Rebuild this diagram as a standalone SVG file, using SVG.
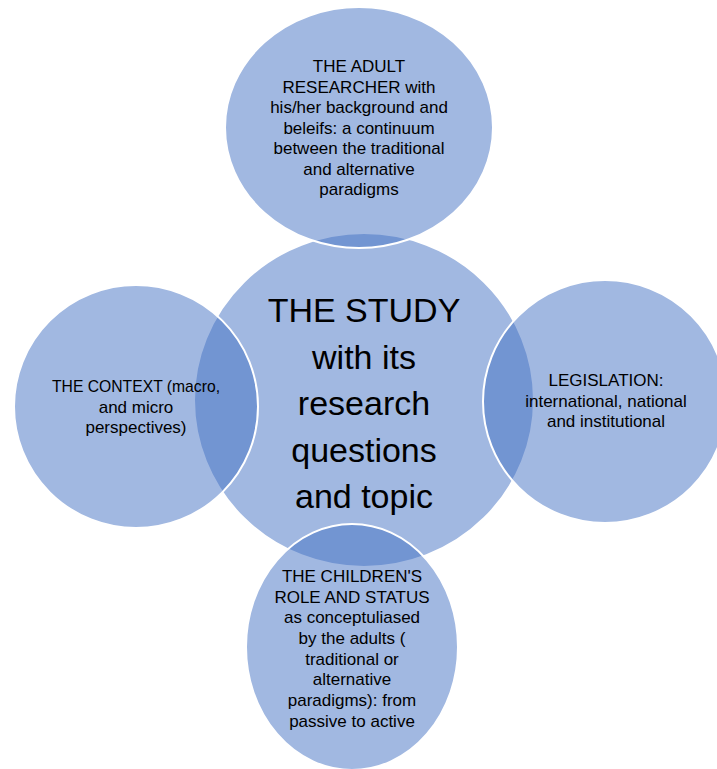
<svg xmlns="http://www.w3.org/2000/svg" width="717" height="769" viewBox="0 0 717 769">
<style>
.c{fill:#4472C4;fill-opacity:0.5;stroke:#fff;stroke-width:2}
.t{font-family:"Liberation Sans",Arial,sans-serif;font-size:17px;fill:#000;text-anchor:middle}
.big{font-family:"Liberation Sans",Arial,sans-serif;font-size:34px;fill:#000;text-anchor:middle}
</style>
<rect width="717" height="769" fill="#fff"/>
<g id="study">
<ellipse class="c" cx="364" cy="400" rx="170" ry="167"/>
<text class="big" x="364"><tspan x="364" y="322">THE STUDY</tspan><tspan x="364" y="369">with its</tspan><tspan x="364" y="415">research</tspan><tspan x="364" y="462">questions</tspan><tspan x="364" y="508">and topic</tspan></text>
</g>
<g id="researcher">
<ellipse class="c" cx="359" cy="127.5" rx="134" ry="120.5"/>
<text class="t"><tspan x="359" y="72">THE ADULT</tspan><tspan x="359" y="92.5">RESEARCHER with</tspan><tspan x="359" y="113">his/her background and</tspan><tspan x="359" y="133.5">beleifs: a continuum</tspan><tspan x="359" y="154">between the traditional</tspan><tspan x="359" y="174.5">and alternative</tspan><tspan x="359" y="195">paradigms</tspan></text>
</g>
<g id="context">
<ellipse class="c" cx="136" cy="406.5" rx="122" ry="121.5"/>
<text class="t"><tspan x="136" y="392" textLength="168" lengthAdjust="spacingAndGlyphs">THE CONTEXT (macro,</tspan><tspan x="136" y="412.5">and micro</tspan><tspan x="136" y="433">perspectives)</tspan></text>
</g>
<g id="legislation">
<ellipse class="c" cx="605" cy="401.5" rx="122" ry="121.5"/>
<text class="t"><tspan x="606" y="386">LEGISLATION:</tspan><tspan x="606" y="406.5">international, national</tspan><tspan x="606" y="427">and institutional</tspan></text>
</g>
<g id="children">
<ellipse class="c" cx="352" cy="647" rx="106" ry="123"/>
<text class="t"><tspan x="352" y="582">THE CHILDREN'S</tspan><tspan x="352" y="602.5">ROLE AND STATUS</tspan><tspan x="352" y="623">as conceptuliased</tspan><tspan x="352" y="644">by the adults (</tspan><tspan x="352" y="664.5">traditional or</tspan><tspan x="352" y="685">alternative</tspan><tspan x="352" y="705.5">paradigms): from</tspan><tspan x="352" y="726.5">passive to active</tspan></text>
</g>
<g id="connectors"></g>
</svg>
